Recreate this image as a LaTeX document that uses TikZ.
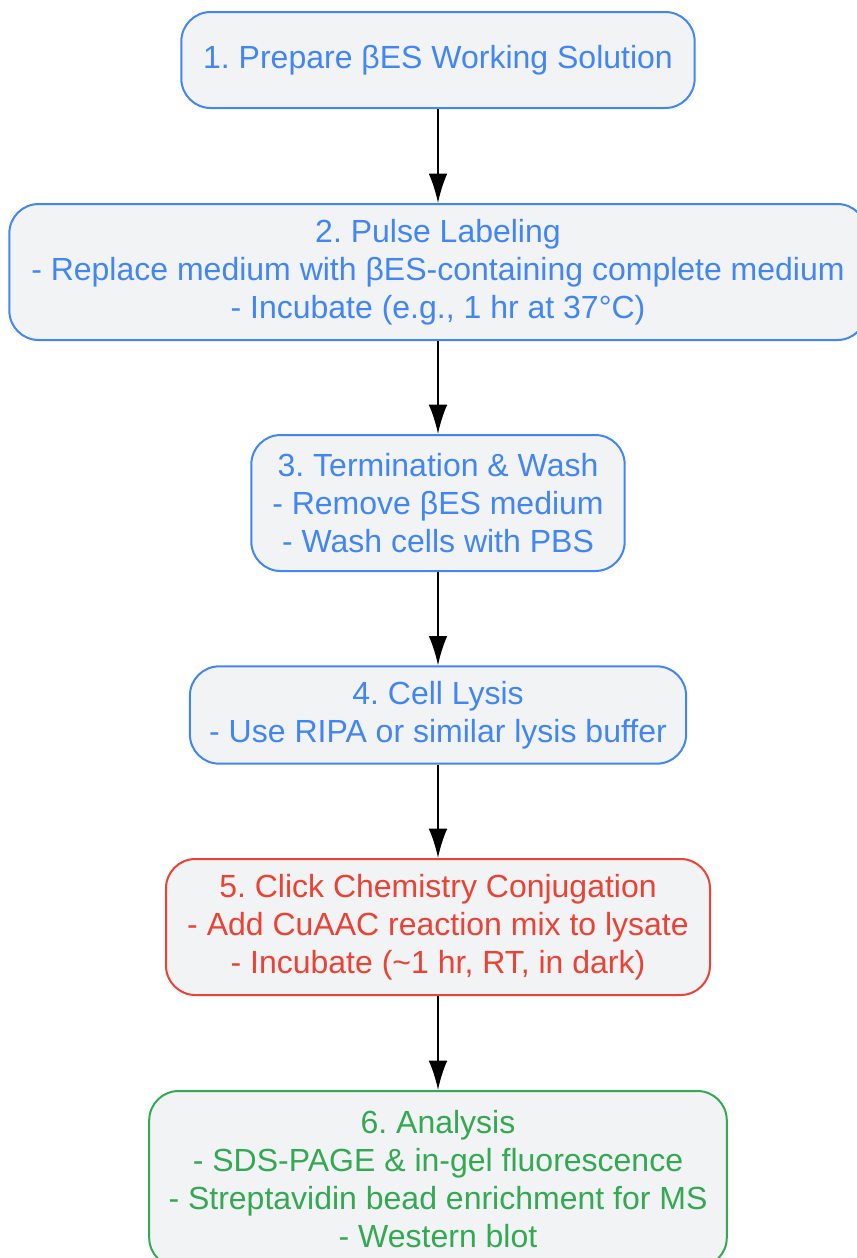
\documentclass[tikz,border=0pt]{standalone}
\usepackage{fontspec}
\setmainfont{Liberation Sans}
\usetikzlibrary{arrows.meta}
\frenchspacing

\xdefinecolor{stepblue}{RGB}{66, 133, 244}
\xdefinecolor{stepred}{RGB}{234, 67, 53}
\xdefinecolor{stepgreen}{RGB}{52, 168, 83}
\xdefinecolor{stepfill}{RGB}{241, 243, 244}

\tikzset{
    stepbox/.style={draw, fill=stepfill, line width=1.5pt, rounded corners=22pt,
        align=center, inner xsep=14.5pt, inner ysep=8pt,
        font=\fontsize{24}{28.5}\selectfont},
    flow/.style={-{Latex[length=22pt,width=14pt]}, line width=1.5pt, black}
}

\begin{document}
\begin{tikzpicture}[x=0.75pt, y=-0.75pt]
            \useasboundingbox (0, 0) rectangle (857, 1258);

            % Steps of the protocol, top to bottom
            \node[stepbox, draw=stepblue, text=stepblue, minimum width=385pt, minimum height=72pt] (Prepare) at (438, 60)
                {1. Prepare βES Working Solution};
            \node[stepbox, draw=stepblue, text=stepblue, minimum width=643pt, minimum height=102pt] (Pulse) at (438, 272)
                {2. Pulse Labeling\\- Replace medium with βES-containing complete medium\\- Incubate (e.g., 1 hr at 37°C)};
            \node[stepbox, draw=stepblue, text=stepblue, minimum width=280pt, minimum height=102pt] (Wash) at (438, 503)
                {3. Termination \& Wash\\- Remove βES medium\\- Wash cells with PBS};
            \node[stepbox, draw=stepblue, text=stepblue, minimum width=372pt, minimum height=73pt] (Lysis) at (438, 715)
                {4. Cell Lysis\\- Use RIPA or similar lysis buffer};
            \node[stepbox, draw=stepred, text=stepred, minimum width=408pt, minimum height=102pt] (Click) at (438, 927)
                {5. Click Chemistry Conjugation\\- Add CuAAC reaction mix to lysate\\- Incubate (\textasciitilde1 hr, RT, in dark)};
            \node[stepbox, draw=stepgreen, text=stepgreen, minimum width=433pt, minimum height=132pt] (Analysis) at (438, 1179)
                {6. Analysis\\- SDS-PAGE \& in-gel fluorescence\\- Streptavidin bead enrichment for MS\\- Western blot};

            % Connect the steps
            \foreach \a/\b in {Prepare/Pulse, Pulse/Wash, Wash/Lysis, Lysis/Click, Click/Analysis} {
                    \draw[flow] (\a) -- (\b);
                }
\end{tikzpicture}
\end{document}
